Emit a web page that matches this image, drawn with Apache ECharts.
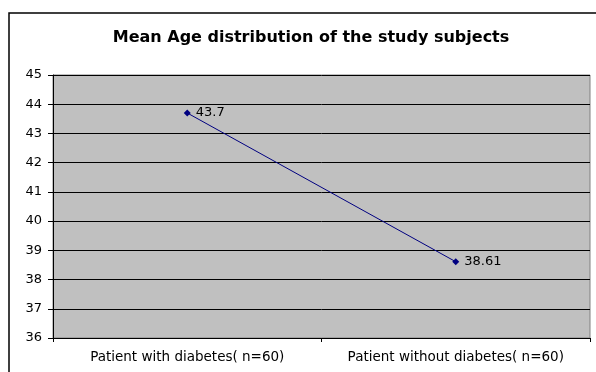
<!DOCTYPE html>
<html>
<head>
<meta charset="utf-8">
<script src="https://cdn.jsdelivr.net/npm/echarts@6/dist/echarts.min.js"></script>
<style>
  html, body { margin: 0; padding: 0; background: #fff; }
  #chart { width: 596px; height: 372px; }
</style>
</head>
<body>
<div id="chart"></div>
<script>
// data
var categories = ['Patient with diabetes( n=60)', 'Patient without diabetes( n=60)'];
var meanAge = [43.7, 38.61];
var yMin = 36, yMax = 45, yStep = 1;

var chart = echarts.init(document.getElementById('chart'));
var font = 'DejaVu Sans, Verdana, sans-serif';

chart.setOption({
    animation: false,
    title: {
        text: 'Mean Age distribution of the study subjects',
        left: 306,
        top: 25,
        textAlign: 'center',
        textStyle: { fontFamily: font, fontSize: 16, fontWeight: 'bold', color: '#000' }
    },
    graphic: [{
        type: 'rect',
        shape: { x: 9, y: 13, width: 620, height: 400 },
        style: { fill: null, stroke: '#000', lineWidth: 1.5 },
        z: 0
    }],
    grid: {
        left: 53, right: 6, top: 75, bottom: 34,
        show: true,
        backgroundColor: '#c0c0c0',
        borderColor: '#808080',
        borderWidth: 1
    },
    xAxis: {
        type: 'category',
        data: categories,
        boundaryGap: true,
        axisLine: { lineStyle: { color: '#000', width: 1 } },
        axisTick: { show: true, interval: 0, length: 4, lineStyle: { color: '#000' } },
        axisLabel: { interval: 0, hideOverlap: false, fontFamily: font, fontSize: 13.5, color: '#000', margin: 12 }
    },
    yAxis: {
        type: 'value',
        min: yMin, max: yMax, interval: yStep,
        axisLine: { show: true, lineStyle: { color: '#000', width: 1 } },
        axisTick: { show: true, length: 5, lineStyle: { color: '#000' } },
        axisLabel: { fontFamily: font, fontSize: 13, color: '#000', margin: 11 },
        splitLine: { show: true, lineStyle: { color: '#000', width: 1 } }
    },
    series: [{
        type: 'line',
        data: meanAge,
        symbol: 'diamond',
        symbolSize: 7,
        itemStyle: { color: '#000080' },
        lineStyle: { color: '#000080', width: 1 },
        label: {
            show: true,
            position: 'right',
            distance: 5,
            fontFamily: font,
            fontSize: 13,
            color: '#000'
        }
    }]
});
</script>
</body>
</html>
